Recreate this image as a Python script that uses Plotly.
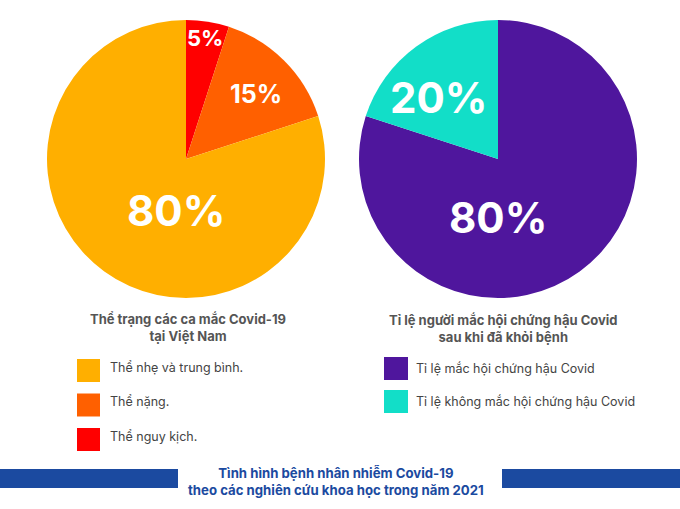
import plotly.graph_objects as go

# ---- data ----
left_labels = ["Thể nguy kịch.", "Thể nặng.", "Thể nhẹ và trung bình."]
left_values = [5, 15, 80]
left_colors = ["#FF0000", "#FF6000", "#FFAF00"]
left_title = "Thể trạng các ca mắc Covid-19<br>tại Việt Nam"
left_legend_order = ["Thể nhẹ và trung bình.", "Thể nặng.", "Thể nguy kịch."]

right_labels = ["Tỉ lệ mắc hội chứng hậu Covid", "Tỉ lệ không mắc hội chứng hậu Covid"]
right_values = [80, 20]
right_colors = ["#4F169D", "#12DEC8"]
right_title = "Tỉ lệ người mắc hội chứng hậu Covid<br>sau khi đã khỏi bệnh"

main_title = "Tình hình bệnh nhân nhiễm Covid-19<br>theo các nghiên cứu khoa học trong năm 2021"

W, H = 680, 509
FONT = "Inter, Montserrat, Open Sans, sans-serif"
BLUE = "#1B4AA0"

fig = go.Figure()

def dom(x0, x1, y0, y1):
    return dict(x=[x0 / W, x1 / W], y=[1 - y1 / H, 1 - y0 / H])

fig.add_trace(go.Pie(
    labels=left_labels, values=left_values, sort=False, direction="clockwise",
    rotation=0, marker=dict(colors=left_colors, line=dict(width=0)),
    textinfo="none", hoverinfo="label+percent", showlegend=False,
    domain=dom(47, 325, 20, 298),
))
fig.add_trace(go.Pie(
    labels=right_labels, values=right_values, sort=False, direction="clockwise",
    rotation=0, marker=dict(colors=right_colors, line=dict(width=0)),
    textinfo="none", hoverinfo="label+percent", showlegend=False,
    domain=dom(359, 637, 20, 298),
))

annotations = []
shapes = []

# percentage labels (pixel positions of text centres)
left_label_pos = {"Thể nguy kịch.": (205, 38, 22), "Thể nặng.": (256, 94, 25),
                  "Thể nhẹ và trung bình.": (176, 210, 42)}
for lab, val in zip(left_labels, left_values):
    x, y, s = left_label_pos[lab]
    annotations.append(dict(x=x, y=y, xref="x", yref="y", text=f"<b>{val}%</b>",
                            showarrow=False, font=dict(family=FONT, size=s, color="white")))
right_label_pos = {right_labels[0]: (498, 217, 42), right_labels[1]: (438, 97, 42)}
for lab, val in zip(right_labels, right_values):
    x, y, s = right_label_pos[lab]
    annotations.append(dict(x=x, y=y, xref="x", yref="y", text=f"<b>{val}%</b>",
                            showarrow=False, font=dict(family=FONT, size=s, color="white")))

# pie titles
annotations.append(dict(x=188, y=327, xref="x", yref="y", text=f"<b>{left_title}</b>",
                        showarrow=False, align="center",
                        font=dict(family=FONT, size=13, color="#555555")))
annotations.append(dict(x=503, y=328, xref="x", yref="y", text=f"<b>{right_title}</b>",
                        showarrow=False, align="center",
                        font=dict(family=FONT, size=13, color="#555555")))

# custom legends
lc = dict(zip(left_labels, left_colors))
for i, lab in enumerate(left_legend_order):
    top = 359 + i * 34.5
    shapes.append(dict(type="rect", xref="x", yref="y", x0=77, x1=100, y0=top, y1=top + 23,
                       fillcolor=lc[lab], line=dict(width=0)))
    annotations.append(dict(x=108, y=top + 8, xref="x", yref="y", text=lab, showarrow=False,
                            xanchor="left", font=dict(family=FONT, size=12.5, color="#444444")))
for i, (lab, col) in enumerate(zip(right_labels, right_colors)):
    top = 357 + i * 33
    shapes.append(dict(type="rect", xref="x", yref="y", x0=384, x1=408, y0=top, y1=top + 23,
                       fillcolor=col, line=dict(width=0)))
    annotations.append(dict(x=414, y=top + 11, xref="x", yref="y", text=lab, showarrow=False,
                            xanchor="left", font=dict(family=FONT, size=12.5, color="#444444")))

# bottom banner
shapes.append(dict(type="rect", xref="x", yref="y", x0=0, x1=178, y0=469, y1=488,
                   fillcolor=BLUE, line=dict(width=0)))
shapes.append(dict(type="rect", xref="x", yref="y", x0=502, x1=680, y0=469, y1=488,
                   fillcolor=BLUE, line=dict(width=0)))
annotations.append(dict(x=336, y=481, xref="x", yref="y", text=f"<b>{main_title}</b>",
                        showarrow=False, align="center",
                        font=dict(family=FONT, size=13.2, color=BLUE)))

fig.update_layout(
    width=W, height=H, margin=dict(l=0, r=0, t=0, b=0),
    paper_bgcolor="white", plot_bgcolor="rgba(0,0,0,0)",
    xaxis=dict(range=[0, W], visible=False, fixedrange=True),
    yaxis=dict(range=[H, 0], visible=False, fixedrange=True),
    annotations=annotations, shapes=shapes, showlegend=False,
)

fig.write_html("out.html")
